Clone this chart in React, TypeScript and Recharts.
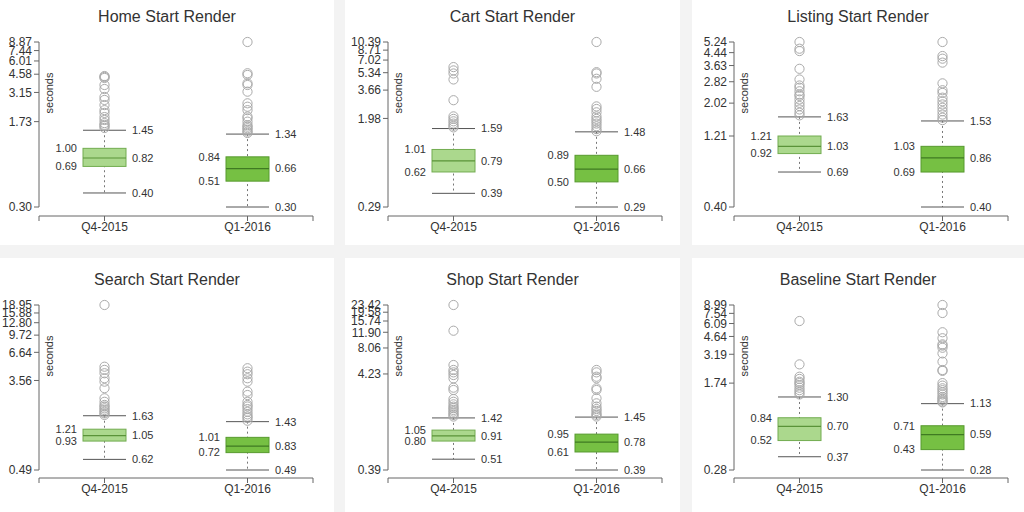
import React from "react";
import { ComposedChart, Bar, Scatter, XAxis, YAxis } from "recharts";

const quarters = ["Q4-2015", "Q1-2016"];

// stats per box: [low whisker, q1, median, q3, high whisker]
const homeTicks = [0.3, 1.73, 3.15, 4.58, 6.01, 7.44, 8.87];
const homeQ4 = [0.4, 0.69, 0.82, 1.0, 1.45];
const homeQ1 = [0.3, 0.51, 0.66, 0.84, 1.34];
const homeOutQ4 = [4.41, 4.33, 4.24, 3.67, 3.38, 2.87, 2.7, 2.43, 2.19, 2.07, 1.9, 1.79, 1.68, 1.62, 1.58, 1.52];
const homeOutQ1 = [8.87, 4.67, 4.51, 3.8, 3.67, 3.2, 2.52, 2.35, 2.19, 1.92, 1.85, 1.73, 1.61, 1.56, 1.51, 1.46, 1.41, 1.37];

const cartTicks = [0.29, 1.98, 3.66, 5.34, 7.02, 8.71, 10.39];
const cartQ4 = [0.39, 0.62, 0.79, 1.01, 1.59];
const cartQ1 = [0.29, 0.5, 0.66, 0.89, 1.48];
const cartOutQ4 = [6.03, 5.61, 5.25, 4.61, 2.94, 2.07, 1.96, 1.86, 1.77, 1.69, 1.63];
const cartOutQ1 = [10.39, 5.4, 5.25, 4.68, 3.93, 2.57, 2.43, 2.26, 2.07, 1.96, 1.86, 1.77, 1.67, 1.57, 1.5];

const listingTicks = [0.4, 1.21, 2.02, 2.82, 3.63, 4.44, 5.24];
const listingQ4 = [0.69, 0.92, 1.03, 1.21, 1.63];
const listingQ1 = [0.4, 0.69, 0.86, 1.03, 1.53];
const listingOutQ4 = [5.24, 4.72, 4.55, 3.45, 2.92, 2.66, 2.57, 2.43, 2.31, 2.26, 2.14, 2.03, 1.93, 1.83, 1.74, 1.67];
const listingOutQ1 = [5.24, 4.21, 4.04, 3.8, 2.75, 2.47, 2.37, 2.2, 2.08, 1.98, 1.88, 1.78, 1.69, 1.61, 1.55];

const searchTicks = [0.49, 3.56, 6.64, 9.72, 12.8, 15.88, 18.95];
const searchQ4 = [0.62, 0.93, 1.05, 1.21, 1.63];
const searchQ1 = [0.49, 0.72, 0.83, 1.01, 1.43];
const searchOutQ4 = [18.95, 4.83, 4.5, 4.18, 3.74, 3.47, 3.0, 2.4, 2.22, 2.07, 2.0, 1.92, 1.85, 1.78, 1.72, 1.66];
const searchOutQ1 = [4.67, 4.33, 4.09, 3.74, 3.47, 2.78, 2.58, 2.22, 2.07, 2.0, 1.89, 1.78, 1.68, 1.6, 1.55, 1.46];

const shopTicks = [0.39, 4.23, 8.06, 11.9, 15.74, 19.58, 23.42];
const shopQ4 = [0.51, 0.8, 0.91, 1.05, 1.42];
const shopQ1 = [0.39, 0.61, 0.78, 0.95, 1.45];
const shopOutQ4 = [23.42, 12.37, 5.28, 4.67, 4.4, 4.12, 3.79, 3.01, 2.84, 2.27, 2.12, 1.99, 1.88, 1.81, 1.73, 1.66, 1.59, 1.53, 1.47];
const shopOutQ1 = [4.67, 4.4, 3.95, 3.79, 2.96, 2.84, 2.31, 2.04, 1.88, 1.77, 1.69, 1.59, 1.53, 1.47];

const baselineTicks = [0.28, 1.74, 3.19, 4.64, 6.09, 7.54, 8.99];
const baselineQ4 = [0.37, 0.52, 0.7, 0.84, 1.3];
const baselineQ1 = [0.28, 0.43, 0.59, 0.71, 1.13];
const baselineOutQ4 = [6.42, 2.58, 1.99, 1.9, 1.79, 1.74, 1.67, 1.58, 1.5, 1.43, 1.37];
const baselineOutQ1 = [8.99, 7.6, 5.07, 4.47, 3.93, 3.83, 3.66, 3.25, 2.73, 2.29, 2.25, 1.74, 1.65, 1.56, 1.5, 1.43, 1.37, 1.3, 1.26, 1.22, 1.18, 1.16];

const panels = [
  { title: "Home Start Render", ticks: homeTicks, stats: [homeQ4, homeQ1], outliers: [homeOutQ4, homeOutQ1] },
  { title: "Cart Start Render", ticks: cartTicks, stats: [cartQ4, cartQ1], outliers: [cartOutQ4, cartOutQ1] },
  { title: "Listing Start Render", ticks: listingTicks, stats: [listingQ4, listingQ1], outliers: [listingOutQ4, listingOutQ1] },
  { title: "Search Start Render", ticks: searchTicks, stats: [searchQ4, searchQ1], outliers: [searchOutQ4, searchOutQ1] },
  { title: "Shop Start Render", ticks: shopTicks, stats: [shopQ4, shopQ1], outliers: [shopOutQ4, shopOutQ1] },
  { title: "Baseline Start Render", ticks: baselineTicks, stats: [baselineQ4, baselineQ1], outliers: [baselineOutQ4, baselineOutQ1] },
];

const FONT = '"Liberation Sans", Arial, Helvetica, sans-serif';
const TEXT = "#333";
const AXIS = "#666";
const BOX_W = 43;
const PLOT_W = 274;
const AXIS_W = 45;
const M_TOP = 12;
const X_PAD = { left: -6, right: -6 };
// distance from a category centre to the nearest end of the x axis line
const END_OFF = (PLOT_W - X_PAD.left - X_PAD.right) / 4 + X_PAD.left;
const BOX_STYLE = [
  { fill: "#abd88d", stroke: "#72ac50", med: "#5a9339" },
  { fill: "#76c043", stroke: "#579a2e", med: "#3f7a22" },
];

const COLS = [
  { left: 0, width: 334, axisX: 39 },
  { left: 345, width: 335, axisX: 388 },
  { left: 692, width: 332, axisX: 734 },
];
const ROWS = [
  { top: 0, height: 245, titleY: 17, plotTop: 42, bottomTick: 207, axisY: 216 },
  { top: 258, height: 254, titleY: 280, plotTop: 305, bottomTick: 470, axisY: 478 },
];

const fmt = (v: number) => v.toFixed(2);

function WhiskerShape(props: any) {
  const { x, y, width, height, payload } = props;
  const top = Math.min(y, y + height);
  const bot = Math.max(y, y + height);
  const cx = x + width / 2;
  return (
    <g>
      <line x1={cx} x2={cx} y1={top} y2={bot} stroke="#777" strokeDasharray="2 3" />
      <line x1={x} x2={x + width} y1={top} y2={top} stroke="#555" />
      <line x1={x} x2={x + width} y1={bot} y2={bot} stroke="#555" />
      <text x={x + width + 6} y={top} dy="0.35em" fontSize={11} fill={TEXT} fontFamily={FONT}>
        {fmt(payload.whisker[1])}
      </text>
      <text x={x + width + 6} y={bot} dy="0.35em" fontSize={11} fill={TEXT} fontFamily={FONT}>
        {fmt(payload.whisker[0])}
      </text>
    </g>
  );
}

function BoxShape(props: any) {
  const { x, y, width, height, payload, index } = props;
  const top = Math.min(y, y + height);
  const bot = Math.max(y, y + height);
  const st = BOX_STYLE[index] || BOX_STYLE[0];
  return (
    <g>
      <rect x={x} y={top} width={width} height={bot - top} fill={st.fill} stroke={st.stroke} />
      <text x={x - 6} y={top} dy="0.35em" textAnchor="end" fontSize={11} fill={TEXT} fontFamily={FONT}>
        {fmt(payload.box[1])}
      </text>
      <text x={x - 6} y={bot} dy="0.35em" textAnchor="end" fontSize={11} fill={TEXT} fontFamily={FONT}>
        {fmt(payload.box[0])}
      </text>
    </g>
  );
}

function MedianShape(props: any) {
  const { cx, cy, payload } = props;
  const st = BOX_STYLE[quarters.indexOf(payload.cat)] || BOX_STYLE[0];
  return (
    <g>
      <line x1={cx - BOX_W / 2} x2={cx + BOX_W / 2} y1={cy} y2={cy} stroke={st.med} strokeWidth={1.2} />
      <text x={cx + BOX_W / 2 + 6} y={cy} dy="0.35em" fontSize={11} fill={TEXT} fontFamily={FONT}>
        {fmt(payload.med)}
      </text>
    </g>
  );
}

function OutlierShape(props: any) {
  const { cx, cy } = props;
  return <circle cx={cx} cy={cy} r={4.6} fill="none" stroke="#aaa" strokeWidth={1} />;
}

function QuarterTick(props: any) {
  const { x, y, payload, index } = props;
  const endX = index === 0 ? x - END_OFF : x + END_OFF;
  return (
    <g>
      <line x1={endX} x2={endX} y1={y - 5} y2={y} stroke={AXIS} />
      <text x={x} y={y} dy="0.85em" textAnchor="middle" fontSize={12} fill={TEXT} fontFamily={FONT}>
        {payload.value}
      </text>
    </g>
  );
}

function Panel({ p, col, row }: { p: (typeof panels)[number]; col: (typeof COLS)[number]; row: (typeof ROWS)[number] }) {
  const rows = quarters.map((cat, i) => ({
    cat,
    whisker: [p.stats[i][0], p.stats[i][4]],
    box: [p.stats[i][1], p.stats[i][3]],
    med: p.stats[i][2],
  }));
  const points = quarters.flatMap((cat, i) => p.outliers[i].map((v) => ({ cat, v })));
  const plotH = row.axisY - row.plotTop;
  const padBottom = row.axisY - row.bottomTick;
  const top = row.plotTop - M_TOP;
  const left = col.axisX - AXIS_W;
  return (
    <>
      <div
        style={{
          position: "absolute",
          left: col.left,
          top: row.top,
          width: col.width,
          height: row.height,
          background: "#fff",
        }}
      />
      <div
        style={{
          position: "absolute",
          left: col.left,
          width: col.width,
          top: row.titleY - 10,
          height: 20,
          lineHeight: "20px",
          textAlign: "center",
          fontFamily: FONT,
          fontSize: 16,
          color: TEXT,
        }}
      >
        {p.title}
      </div>
      <div
        style={{
          position: "absolute",
          left: col.axisX + 10,
          top: row.plotTop + 51,
          transform: "translate(-50%, -50%) rotate(-90deg)",
          fontFamily: FONT,
          fontSize: 11,
          color: TEXT,
          whiteSpace: "nowrap",
        }}
      >
        seconds
      </div>
      <div style={{ position: "absolute", left, top }}>
        <ComposedChart
          width={AXIS_W + PLOT_W + 10}
          height={M_TOP + plotH + 30}
          data={rows}
          margin={{ top: M_TOP, right: 10, bottom: 0, left: 0 }}
        >
          <XAxis
            xAxisId="main"
            dataKey="cat"
            type="category"
            allowDuplicatedCategory={false}
            padding={X_PAD}
            height={30}
            axisLine={{ stroke: AXIS }}
            tickLine={{ stroke: AXIS }}
            tickSize={5}
            tickMargin={0}
            interval={0}
            tick={(t: any) => <QuarterTick {...t} />}
          />
          <XAxis xAxisId="w" dataKey="cat" type="category" allowDuplicatedCategory={false} padding={X_PAD} hide />
          <XAxis xAxisId="s" dataKey="cat" type="category" allowDuplicatedCategory={false} padding={X_PAD} hide />
          <YAxis
            type="number"
            scale="log"
            domain={[p.ticks[0], p.ticks[p.ticks.length - 1]]}
            ticks={p.ticks}
            interval={0}
            width={AXIS_W}
            padding={{ top: 0, bottom: padBottom }}
            tickFormatter={fmt}
            tickSize={5}
            tickMargin={2}
            axisLine={{ stroke: AXIS, strokeDasharray: `${plotH - padBottom} 1000` }}
            tickLine={{ stroke: AXIS }}
            tick={{ fontSize: 12, fill: TEXT, fontFamily: FONT }}
          />
          <Bar xAxisId="w" dataKey="whisker" barSize={BOX_W} shape={(s: any) => <WhiskerShape {...s} />} isAnimationActive={false} />
          <Bar xAxisId="main" dataKey="box" barSize={BOX_W} shape={(s: any) => <BoxShape {...s} />} isAnimationActive={false} />
          <Scatter xAxisId="s" data={rows} dataKey="med" shape={(s: any) => <MedianShape {...s} />} isAnimationActive={false} />
          <Scatter xAxisId="s" data={points} dataKey="v" shape={(s: any) => <OutlierShape {...s} />} isAnimationActive={false} />
        </ComposedChart>
      </div>
    </>
  );
}

export default function App() {
  return (
    <div
      style={{
        position: "absolute",
        left: 0,
        top: 0,
        width: 1024,
        height: 512,
        background: "#f3f3f3",
        overflow: "hidden",
      }}
    >
      {panels.map((p, i) => (
        <Panel key={p.title} p={p} col={COLS[i % 3]} row={ROWS[Math.floor(i / 3)]} />
      ))}
    </div>
  );
}
